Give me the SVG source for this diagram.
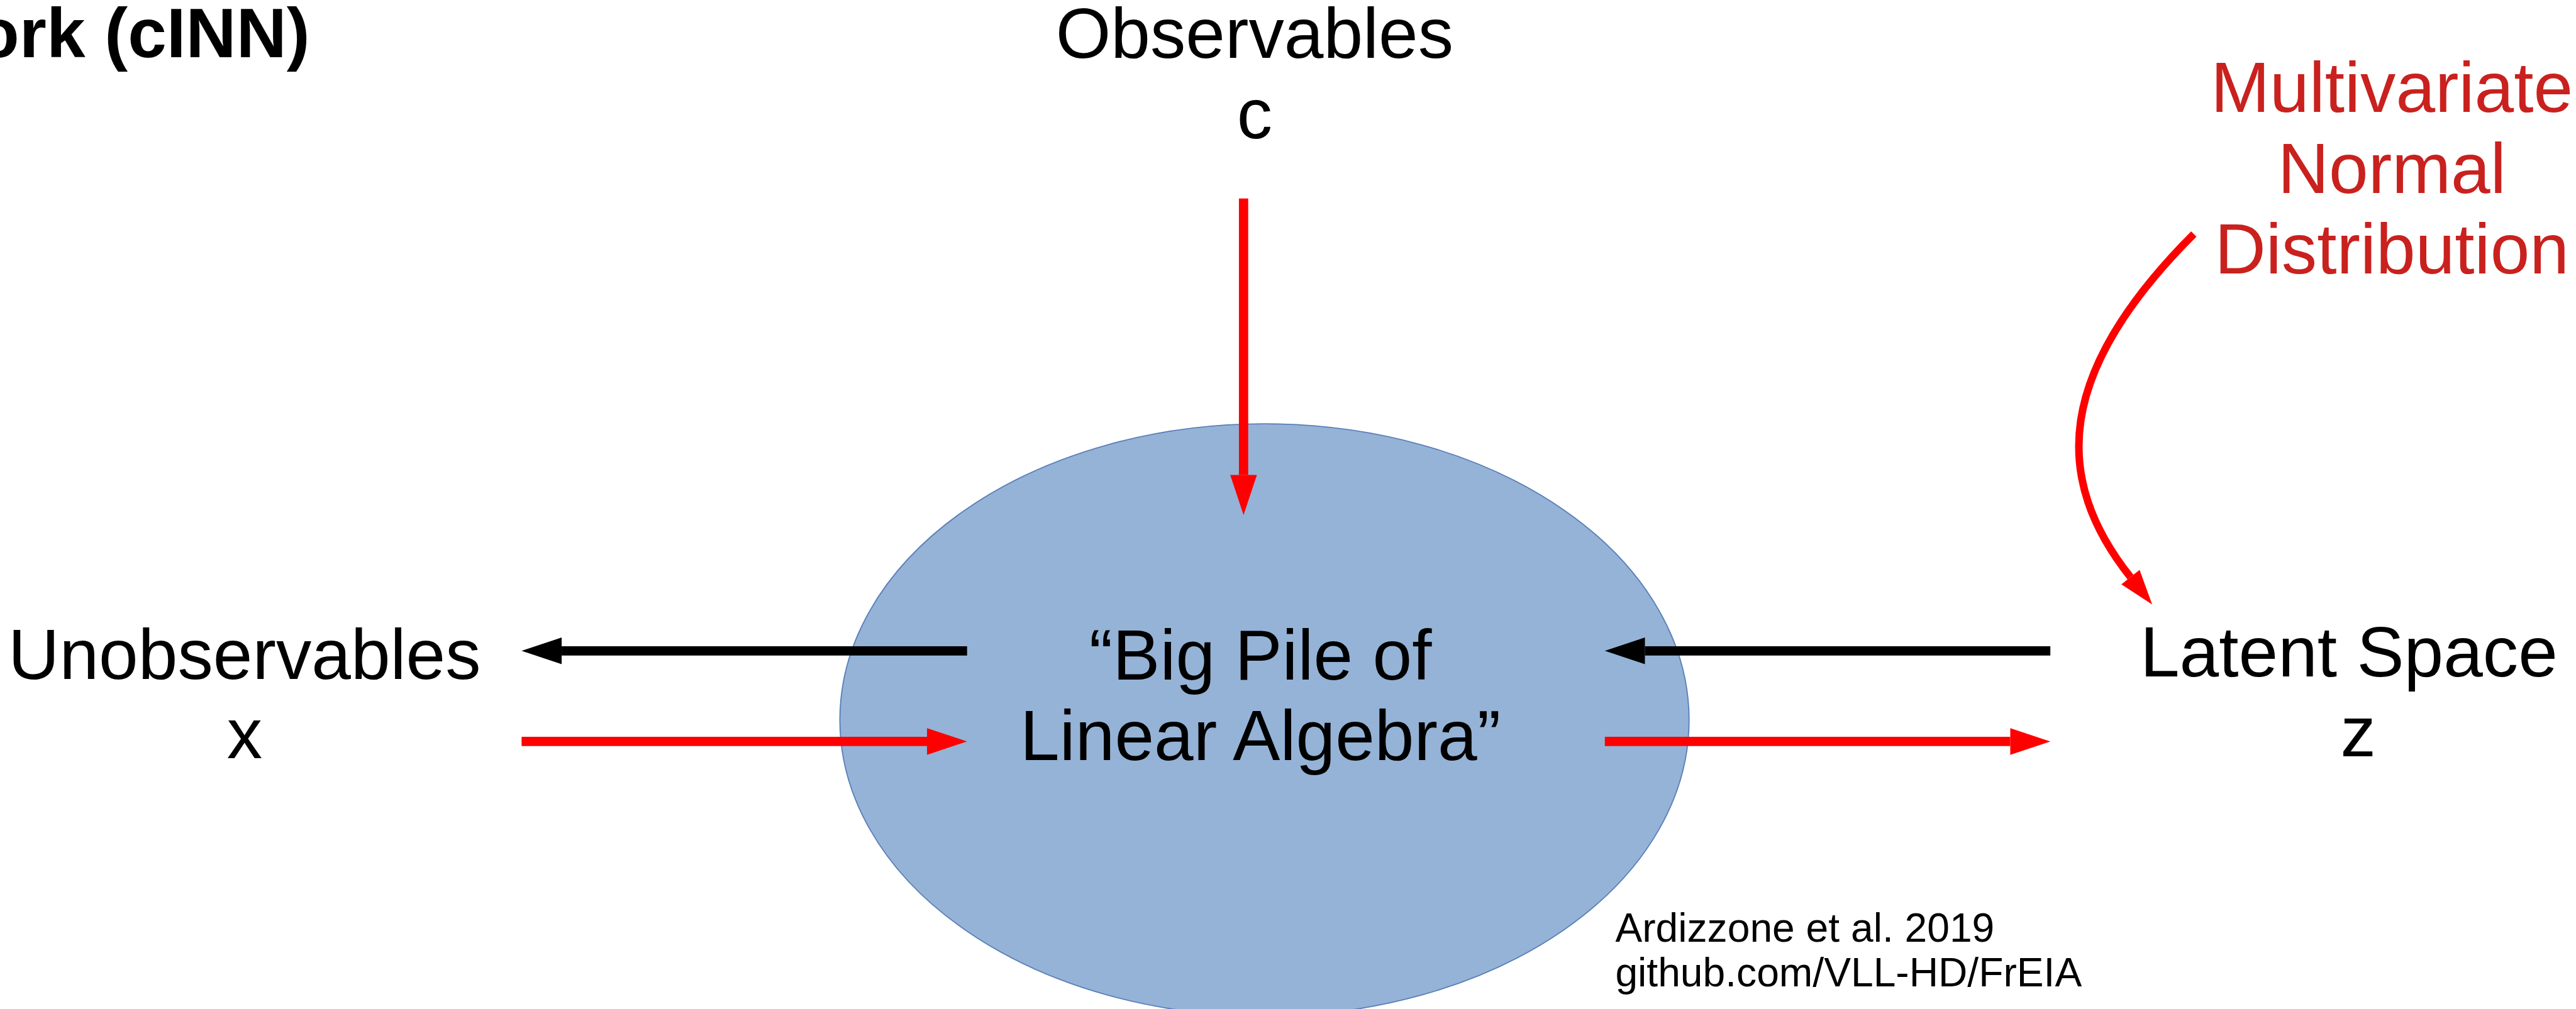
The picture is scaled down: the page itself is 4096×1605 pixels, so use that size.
<svg xmlns="http://www.w3.org/2000/svg" width="4096" height="1605" viewBox="0 0 4096 1605">
<style>
.t{font-family:"Liberation Sans",Arial,sans-serif;font-size:122px;fill:#000}
.b{font-weight:bold;font-size:120px}
.red{fill:#C9211E}
.mid{text-anchor:middle}
.cite{font-family:"Liberation Sans",Arial,sans-serif;font-size:69.5px;fill:#000}
.ar{fill:none;stroke-width:16}
</style>
<defs>
<marker id="hr" markerUnits="userSpaceOnUse" markerWidth="69" markerHeight="46" refX="0" refY="23" orient="auto" overflow="visible"><path d="M0,0 L69,23 L0,46 Z" fill="#FF0000"/></marker>
<marker id="hk" markerUnits="userSpaceOnUse" markerWidth="69" markerHeight="46" refX="0" refY="23" orient="auto" overflow="visible"><path d="M0,0 L69,23 L0,46 Z" fill="#000000"/></marker>
<marker id="hc" markerUnits="userSpaceOnUse" markerWidth="60" markerHeight="40" refX="0" refY="20" orient="auto" overflow="visible"><path d="M0,0 L60,20 L0,40 Z" fill="#FF0000"/></marker>
</defs>
<rect width="4096" height="1605" fill="#FFFFFF"/>
<g transform="scale(0.92356)">
<g id="title"><text class="t b" x="-40" y="99">ork (cINN)</text></g>
<g id="network"><ellipse cx="2177" cy="1240" rx="731" ry="510" fill="#95B3D7" stroke="#5B7FB8" stroke-width="2"/>
<text class="t mid" x="2170" y="1171">“Big Pile of</text>
<text class="t mid" x="2170" y="1309">Linear Algebra”</text></g>
<g id="observables"><text class="t mid" x="2160" y="100">Observables</text><text class="t mid" x="2160" y="238">c</text></g>
<g id="unobservables"><text class="t mid" x="421" y="1169">Unobservables</text><text class="t mid" x="421" y="1306">x</text></g>
<g id="latent"><text class="t mid" x="4044" y="1165">Latent Space</text><text class="t mid" x="4060" y="1303">z</text></g>
<g id="normal"><text class="t mid red" x="4118" y="193">Multivariate</text><text class="t mid red" x="4118" y="332">Normal</text><text class="t mid red" x="4118" y="471">Distribution</text></g>
<g id="citation"><text class="cite" x="2781" y="1622">Ardizzone et al. 2019</text><text class="cite" x="2781" y="1699">github.com/VLL-HD/FrEIA</text></g>
<g id="connectors">
<path class="ar" d="M2141,342 L2141,818" stroke="#FF0000" marker-end="url(#hr)"/>
<path class="ar" d="M1665,1121 L967,1121" stroke="#000000" marker-end="url(#hk)"/>
<path class="ar" d="M898,1277 L1596,1277" stroke="#FF0000" marker-end="url(#hr)"/>
<path class="ar" d="M3530,1121 L2832,1121" stroke="#000000" marker-end="url(#hk)"/>
<path class="ar" d="M2763,1277 L3461,1277" stroke="#FF0000" marker-end="url(#hr)"/>
<path d="M3777,403 C3537,643 3534,825 3668,994" fill="none" stroke="#FF0000" stroke-width="13" marker-end="url(#hc)"/>
</g>
</g>
</svg>
